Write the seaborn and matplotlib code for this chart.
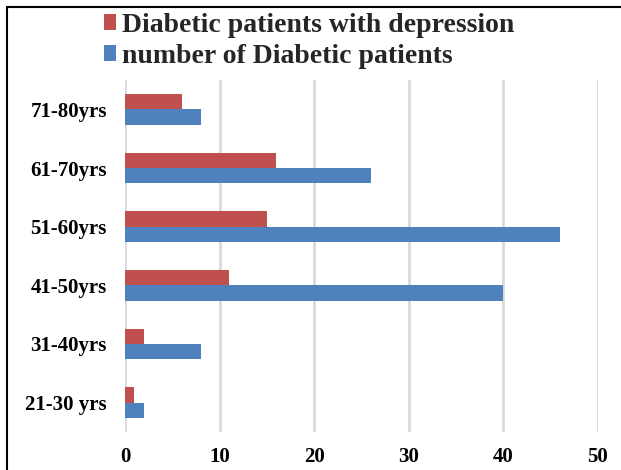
import matplotlib
matplotlib.use("Agg")
import matplotlib.pyplot as plt
from matplotlib.patches import Patch
from matplotlib.lines import Line2D
import seaborn as sns
import pandas as pd

categories = ["71-80yrs", "61-70yrs", "51-60yrs", "41-50yrs", "31-40yrs", "21-30 yrs"]
with_depression = [6, 16, 15, 11, 2, 1]
total_patients = [8, 26, 46, 40, 8, 2]
series_names = ["Diabetic patients with depression", "number of Diabetic patients"]
x_ticks = [0, 10, 20, 30, 40, 50]

colors = ["#C0504D", "#4F81BD"]

df = pd.DataFrame({
    "age": categories * 2,
    "value": with_depression + total_patients,
    "series": [series_names[0]] * len(categories) + [series_names[1]] * len(categories),
})

sns.set_theme(style="white")
plt.rcParams["font.family"] = ["Liberation Serif", "DejaVu Serif"]
plt.rcParams["font.weight"] = "bold"

W, H = 621, 470
fig = plt.figure(figsize=(W / 100, H / 100), dpi=100)
ax = fig.add_axes([125 / W, 1 - 432 / H, (598 - 125) / W, (432 - 80) / H])

sns.barplot(data=df, y="age", x="value", hue="series", order=categories,
            hue_order=series_names, palette=colors, orient="h", width=0.52,
            saturation=1, ax=ax, legend=False, linewidth=0)

ax.set_xlim(0, 50)
ax.set_ylim(len(categories) - 0.5, -0.5)
ax.set_xticks(x_ticks)
ax.set_xticklabels([str(t) for t in x_ticks], fontsize=15, fontweight="bold")
ax.set_yticklabels(categories, fontsize=15, fontweight="bold")
ax.set_xlabel("")
ax.set_ylabel("")
ax.tick_params(axis="x", length=0, pad=11, colors="black")
ax.tick_params(axis="y", length=0, pad=13, colors="black")
for s in ["top", "right", "bottom", "left"]:
    ax.spines[s].set_visible(False)
ax.grid(axis="x", color="#d9d9d9", linewidth=2)
ax.grid(axis="y", visible=False)
ax.set_axisbelow(True)

handles = [Patch(facecolor=c, edgecolor="none") for c in colors]
fig.legend(handles, series_names, loc="upper left",
           bbox_to_anchor=(104 / W, 1 - 13 / H), frameon=False,
           prop={"family": "Liberation Serif", "weight": "bold", "size": 20},
           handlelength=0.42, handleheight=0.5, handletextpad=0.22,
           labelspacing=0.2, borderpad=0, borderaxespad=0)

# outer border (left and top edges visible)
fig.add_artist(Line2D([7 / W, 7 / W], [0, 1 - 7 / H], transform=fig.transFigure,
                      color="black", linewidth=1.5))
fig.add_artist(Line2D([7 / W, 1], [1 - 7 / H, 1 - 7 / H], transform=fig.transFigure,
                      color="black", linewidth=1.5))

fig.savefig("out.png", dpi=100)
